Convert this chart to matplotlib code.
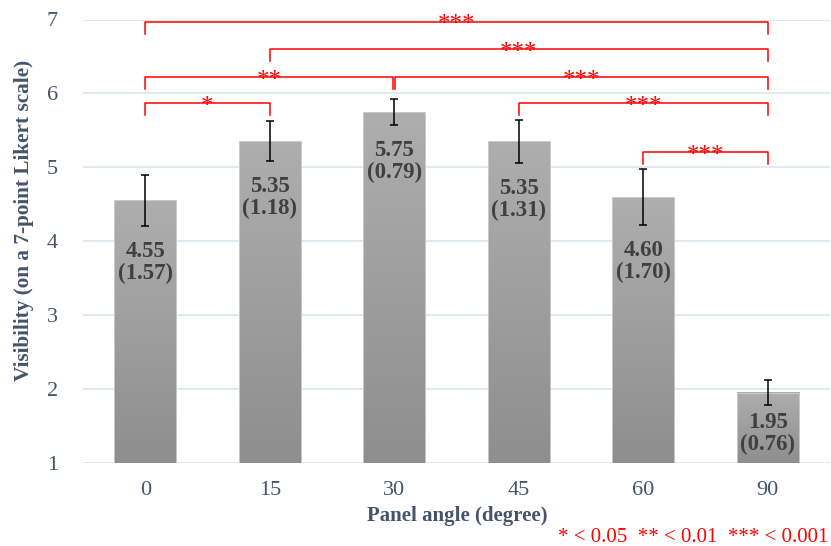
import numpy as np
import matplotlib.pyplot as plt
from matplotlib.colors import LinearSegmentedColormap

# panel angle data
angles = ['0', '15', '30', '45', '60', '90']
means = [4.55, 5.35, 5.75, 5.35, 4.60, 1.95]
sds = [1.57, 1.18, 0.79, 1.31, 1.70, 0.76]
errs = [0.35, 0.27, 0.18, 0.29, 0.38, 0.17]

# significant pairs (index a, index b, stars)
pairs = [(0, 5, '***'), (1, 5, '***'), (0, 2, '**'), (2, 5, '***'),
         (0, 1, '*'), (3, 5, '***'), (4, 5, '***')]
levels = [6.97, 6.60, 6.22, 6.22, 5.87, 5.87, 5.20]

serif = ['Liberation Serif', 'DejaVu Serif']
tick_col = '#44546A'
red = '#FF0000'

fig = plt.figure(figsize=(8.31, 5.46), dpi=100)
W, H = 831, 546
ax = fig.add_axes([83 / W, (H - 462.7) / H, (830 - 83) / W, (462.7 - 19.5) / H])

x = np.arange(len(angles))

for yv in range(1, 8):
    ax.axhline(yv, color='#D9E1EA', lw=1.1, zorder=0)

bars = ax.bar(x, np.array(means) - 1, bottom=1, width=0.5, color='none',
              edgecolor='#D0D0D0', lw=0.6, zorder=2)

grad = np.linspace(0, 1, 256).reshape(-1, 1)
cmap = LinearSegmentedColormap.from_list('g', ['#8E8E8E', '#AEAEAE'])
for b in bars:
    x0, y0 = b.get_x(), b.get_y()
    ax.imshow(grad, extent=[x0, x0 + b.get_width(), y0, y0 + b.get_height()],
              origin='lower', aspect='auto', cmap=cmap, zorder=1.5)
ax.set_xlim(-0.5, len(angles) - 0.5)
ax.set_ylim(1, 7)

ax.errorbar(x, means, yerr=errs, fmt='none', ecolor='black', elinewidth=1.1,
            capsize=3, capthick=1.1, zorder=3)

for i in range(len(angles)):
    ytop = max(means[i] - errs[i] - 0.2, 1.68)
    ax.text(x[i], ytop, f'{means[i]:.2f}\n({sds[i]:.2f})', ha='center', va='top',
            family=serif, fontweight='bold', fontsize=16.5, color='#404040',
            linespacing=1.05, zorder=4)

drop = 0.16
for (a, b, s), lv in zip(pairs, levels):
    xa, xb = x[a], x[b]
    if b == 2:
        xb -= 0.01
    if a == 2:
        xa += 0.01
    ax.plot([xa, xa, xb, xb], [lv - drop, lv, lv, lv - drop], color=red,
            lw=1.1, zorder=5, clip_on=False)
    ax.annotate(s, ((xa + xb) / 2, lv), xytext=(0, -7), textcoords='offset points',
                ha='center', va='baseline', color=red, fontsize=18, family=serif,
                zorder=5, annotation_clip=False)

for sp in ax.spines.values():
    sp.set_visible(False)
ax.set_xticks(x)
ax.set_xticklabels(angles)
ax.set_yticks(range(1, 8))
ax.tick_params(length=0, labelsize=16, labelcolor=tick_col, pad=13)
ax.tick_params(axis='y', pad=18)
for t in ax.get_xticklabels() + ax.get_yticklabels():
    t.set_family(serif)

fig.text(457 / W, 1 - 516 / H, 'Panel angle (degree)', ha='center', va='center',
         family=serif, fontweight='bold', fontsize=15, color=tick_col)
fig.text(24 / W, 1 - 220 / H, 'Visibility (on a 7-point Likert scale)', rotation=90,
         ha='center', va='center', family=serif, fontweight='bold', fontsize=15.3,
         color=tick_col)
fig.text(828 / W, 1 - 537 / H, '* < 0.05  ** < 0.01  *** < 0.001', ha='right',
         va='center', family=serif, fontsize=15, color=red)

fig.savefig('out.png', dpi=100)
